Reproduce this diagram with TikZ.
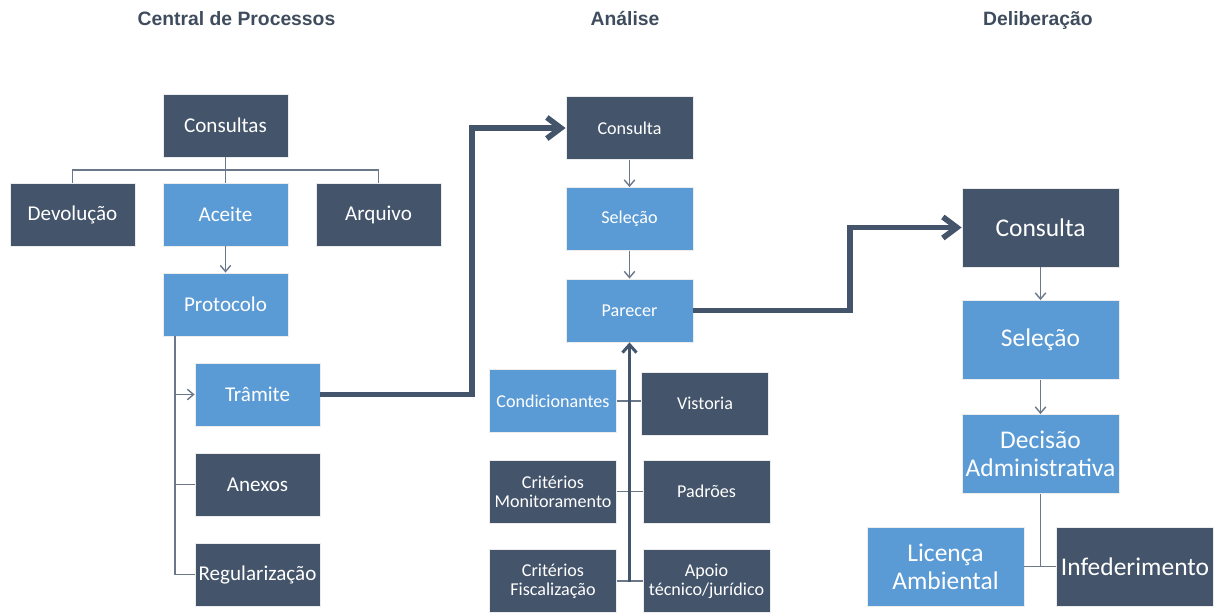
\documentclass[tikz,border=0pt]{standalone}
\usepackage{fontspec}
\setmainfont{Carlito}
\newfontfamily\headfont{Liberation Sans}
\usetikzlibrary{arrows.meta}
\definecolor{boxdark}{HTML}{44546A}
\definecolor{boxlight}{HTML}{5B9BD5}
\definecolor{linkgray}{HTML}{6B7889}
\definecolor{headgray}{HTML}{3E4C5E}
\begin{document}
    \begin{tikzpicture}[x=0.02cm,y=-0.02cm,
        box/.style={draw=gray!15,line width=0.5pt,text=white,align=center,inner sep=1pt,minimum width=2.5cm,minimum height=1.26cm},
        dark/.style={box,fill=boxdark},
        light/.style={box,fill=boxlight},
        colA/.style={font=\fontsize{12}{14}\selectfont},
        colB/.style={font=\fontsize{10.3}{11}\selectfont,minimum width=2.54cm,minimum height=1.26cm},
        colC/.style={font=\fontsize{14.5}{16}\selectfont,minimum width=3.14cm,minimum height=1.58cm},
        tline/.style={linkgray,line width=0.8pt},
        tarrow/.style={tline,-{Straight Barb[length=3.5pt,width=6pt]}},
        bigarrow/.style={boxdark,line width=3.2pt,-{Straight Barb[length=8pt,width=12pt]}},
        midarrow/.style={boxdark,line width=1.7pt,-{Straight Barb[length=4.5pt,width=8pt]}},
        head/.style={headgray,font=\headfont\bfseries\fontsize{11}{13}\selectfont}]
        \useasboundingbox (0,0) rectangle (1219,612);
        \node[head] (hcp) at (236.5,19) {Central de Processos};
        \node[head] (han) at (625,19) {Análise};
        \node[head] (hdel) at (1038,21) {Deliberação};
        \node[dark,colA] (cons) at (225.5,125.5) {Consultas};
        \node[dark,colA] (devol) at (72.5,214.5) {Devolução};
        \node[light,colA] (aceite) at (225.5,214.5) {Aceite};
        \node[dark,colA] (arq) at (378.5,214.5) {Arquivo};
        \node[light,colA] (prot) at (225.5,304.5) {Protocolo};
        \node[light,colA] (tram) at (257.5,394.5) {Trâmite};
        \node[dark,colA] (anex) at (257.5,484.5) {Anexos};
        \node[dark,colA] (regul) at (257.5,574.5) {Regularização};
        \node[dark,colB] (acons) at (629.5,128) {Consulta};
        \node[light,colB] (asel) at (629.5,219) {Seleção};
        \node[light,colB] (apar) at (629.5,310.5) {Parecer};
        \node[light,colB] (cond) at (553,401) {Condicionantes};
        \node[dark,colB] (vist) at (705,403.5) {Vistoria};
        \node[dark,colB] (crmon) at (553,491.5) {Critérios\\Monitoramento};
        \node[dark,colB] (padr) at (706.5,491.5) {Padrões};
        \node[dark,colB] (crfis) at (553,581) {Critérios\\Fiscalização};
        \node[dark,colB] (apoio) at (706.5,581) {Apoio\\técnico/jurídico};
        \node[dark,colC] (dcons) at (1040.5,227.5) {Consulta};
        \node[light,colC] (dsel) at (1040.5,340) {Seleção};
        \node[light,colC] (ddec) at (1040.5,454) {Decisão\\Administrativa};
        \node[light,colC] (lic) at (945.5,566.5) {Licença\\Ambiental};
        \node[dark,colC] (inf) at (1135,566.5) {Infederimento};
        \coordinate (split) at (225.5,170);
        \coordinate (ptop) at (175,336);
        \coordinate (bend1) at (472,128);
        \coordinate (bend2) at (850,227.5);
        \coordinate (abase) at (629.5,582);
        \coordinate (djoin) at (1040.5,566.5);
        \draw[tline] (cons) -- (split);
        \draw[tline] (split) -| (devol.north);
        \draw[tline] (split) -| (arq.north);
        \draw[tline] (split) -- (aceite);
        \draw[tarrow] (aceite) -- (prot);
        \draw[tarrow] (ptop) |- (tram.west);
        \draw[tline] (ptop) |- (anex.west);
        \draw[tline] (ptop) |- (regul.west);
        \draw[bigarrow] (tram.east) -| (bend1) -- (acons.west);
        \draw[tarrow] (acons) -- (asel);
        \draw[tarrow] (asel) -- (apar);
        \draw[tline] (cond.east) -- (cond.east -| vist.west);
        \draw[tline] (crmon.east) -- (padr.west);
        \draw[tline] (crfis.east) -- (apoio.west);
        \draw[midarrow] (abase) -- (apar.south);
        \draw[bigarrow] (apar.east) -| (bend2) -- (dcons.west);
        \draw[tarrow] (dcons) -- (dsel);
        \draw[tarrow] (dsel) -- (ddec);
        \draw[tline] (ddec) -- (djoin);
        \draw[tline] (lic.east) -- (inf.west);
    \end{tikzpicture}
\end{document}
